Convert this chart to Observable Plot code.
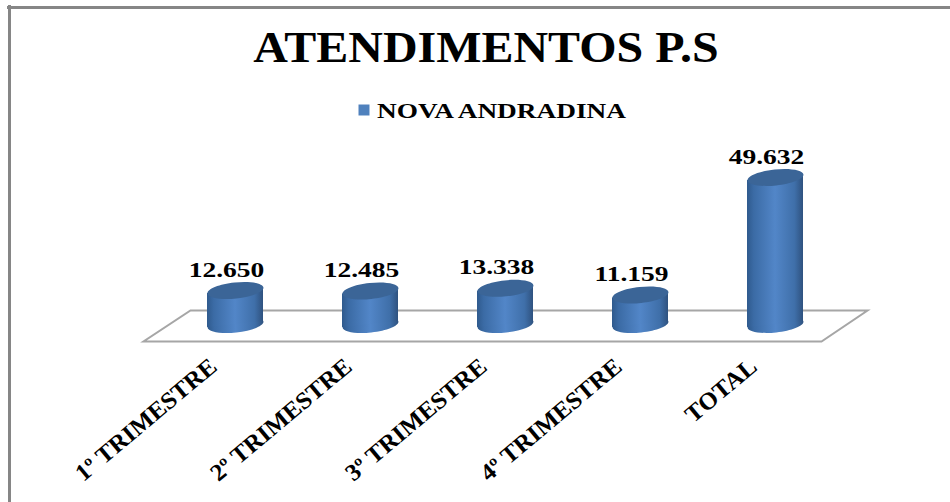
<!DOCTYPE html>
<html><head><meta charset="utf-8">
<script src="https://cdn.jsdelivr.net/npm/d3@7"></script>
<script src="https://cdn.jsdelivr.net/npm/@observablehq/plot@0.6"></script>
<style>html,body{margin:0;padding:0;background:#fff}svg{display:block}</style>
</head><body><div id="chart"></div>
<script>
const categories = ["1º TRIMESTRE","2º TRIMESTRE","3º TRIMESTRE","4º TRIMESTRE","TOTAL"];
const values = [12650,12485,13338,11159,49632];
const valueLabels = ["12.650","12.485","13.338","11.159","49.632"];
const seriesName = "NOVA ANDRADINA";
const titleText = "ATENDIMENTOS P.S";
const floorValue = 1500;
const data = categories.map((c,i)=>({c,v:values[i],label:valueLabels[i]}));

const serif = "'Liberation Serif','Times New Roman',serif";
function ellipsePath(ctx, rx, ry, tilt){
  const k=0.5523, c=Math.cos(tilt), s=Math.sin(tilt);
  const P=(x,y)=>[x*c-y*s, x*s+y*c];
  const seg=(a,b,d)=>ctx.bezierCurveTo(...P(...a),...P(...b),...P(...d));
  ctx.moveTo(...P(rx,0));
  seg([rx,k*ry],[k*rx,ry],[0,ry]);
  seg([-k*rx,ry],[-rx,k*ry],[-rx,0]);
  seg([-rx,-k*ry],[-k*rx,-ry],[0,-ry]);
  seg([k*rx,-ry],[rx,-k*ry],[rx,0]);
  ctx.closePath();
}
const capSymbol={draw(ctx){ellipsePath(ctx,28.1,8,-0.105);}};
const floorSymbol={draw(ctx){
  ctx.moveTo(-362,17);ctx.lineTo(316,17);ctx.lineTo(362,-14);ctx.lineTo(-315,-14);ctx.closePath();
}};
const gradient=()=>{
  const g=d3.create("svg:defs");
  const lg=g.append("linearGradient").attr("id","cyl").attr("x1",0).attr("x2",1).attr("y1",0).attr("y2",0);
  [[0,"#2f5a8d"],[0.12,"#3b6ba5"],[0.5,"#5286c8"],[0.85,"#3f6fa9"],[1,"#2f527f"]]
    .forEach(([o,c])=>lg.append("stop").attr("offset",o).attr("stop-color",c));
  return g.node();
};
const skewBars=(index,scales,values,dims,ctx,next)=>{
  const g=next(index,scales,values,dims,ctx);
  g.querySelectorAll("rect").forEach(r=>{
    const cx=+r.getAttribute("x")+r.getAttribute("width")/2;
    r.setAttribute("transform",`translate(${cx},0) skewY(-6) translate(${-cx},0)`);
  });
  return g;
};
const plot=Plot.plot({
  width:950,height:502,
  marginLeft:166,marginRight:106,marginTop:177,marginBottom:173.4,
  style:{background:"#fff",fontFamily:serif},
  x:{domain:categories,paddingInner:0.586,paddingOuter:0.293,label:null},
  y:{domain:[0,49632],axis:null},
  marks:[
    gradient,
    Plot.frame({anchor:"top",stroke:"#868686",strokeWidth:3,insetTop:-170,insetLeft:-158,insetRight:-106}),
    Plot.frame({anchor:"left",stroke:"#868686",strokeWidth:3,insetLeft:-157,insetTop:-171,insetBottom:-174}),
    Plot.dot(["3º TRIMESTRE"],{x:d=>d,y:()=>floorValue,symbol:floorSymbol,r:10,fill:"none",stroke:"#a6a6a6",strokeWidth:2}),
    Plot.axisX({tickSize:0,tickRotate:-40,tickPadding:30,dx:-22,dy:4,fontSize:24,fontWeight:"bold",fill:"#000",fontFamily:serif,label:null}),
    Plot.dot(data,{x:"c",y:()=>floorValue,symbol:capSymbol,r:10,fill:"url(#cyl)",stroke:"none"}),
    Plot.barY(data,{x:"c",y1:()=>floorValue,y2:"v",fill:"url(#cyl)",render:skewBars}),
    Plot.dot(data,{x:"c",y:"v",symbol:capSymbol,r:10,fill:"#3b6597",stroke:"none"}),
    Plot.text(data,{x:"c",y:"v",text:"label",dx:-9,dy:-21,fontSize:22,fontWeight:"bold",fill:"#000",fontFamily:serif}),
    Plot.text([titleText],{frameAnchor:"top",dx:-19.5,dy:-147,fontSize:44,fontWeight:"bold",fill:"#000",fontFamily:serif}),
    Plot.dot([seriesName],{frameAnchor:"top",dx:-141.5,dy:-67.5,symbol:"square",r:6.2,fill:"#4f81bd",stroke:"none"}),
    Plot.text([seriesName],{frameAnchor:"top",dx:-4,dy:-75,fontSize:22,fontWeight:"bold",fill:"#000",fontFamily:serif})
  ]
});
document.getElementById("chart").append(plot);
const stretch=new Map([[titleText,1.09],[seriesName,1.24]]);
valueLabels.forEach(l=>stretch.set(l,1.25));
categories.forEach(c=>stretch.set(c,1.04));
plot.querySelectorAll("text").forEach(t=>{
  const f=stretch.get(t.textContent);
  if(f){t.setAttribute("textLength",t.getComputedTextLength()*f);t.setAttribute("lengthAdjust","spacingAndGlyphs");}
});
</script></body></html>
